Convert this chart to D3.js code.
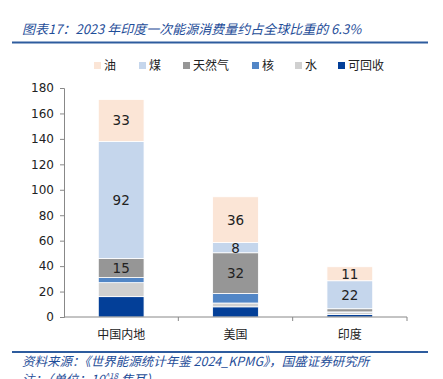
<!DOCTYPE html>
<html>
<head>
<meta charset="utf-8">
<script src="https://cdn.jsdelivr.net/npm/d3@7"></script>
<style>
  body { margin: 0; background: #fff; }
  svg { display: block; }
</style>
</head>
<body>
<div id="chart"></div>
<script>
var width = 443;
var height = 379;

var regions = ["中国内地", "美国", "印度"];
var seriesNames = ["可回收", "水", "核", "天然气", "煤", "油"];
var renewable = [16, 8, 2];
var hydro = [11, 3, 1.5];
var nuclear = [4, 7.5, 0.5];
var gas = [15, 32, 2.5];
var coal = [92, 8, 22];
var oil = [33, 36, 11];
var legendOrder = ["油", "煤", "天然气", "核", "水", "可回收"];
var yTicks = [0, 20, 40, 60, 80, 100, 120, 140, 160, 180];

var colors = {
  "油": "#fbe5d6",
  "煤": "#c5d6ec",
  "天然气": "#969696",
  "核": "#5286c6",
  "水": "#d0d0d0",
  "可回收": "#033f98"
};
var labelled = ["天然气", "煤", "油"];

var seriesValues = [renewable, hydro, nuclear, gas, coal, oil];
var rows = regions.map((r, i) => {
  var row = { region: r };
  seriesNames.forEach((s, j) => { row[s] = seriesValues[j][i]; });
  return row;
});

var margin = { left: 64, right: 36, top: 88, bottom: 62 };

var svg = d3.select("#chart").append("svg")
  .attr("width", width)
  .attr("height", height);

// title
svg.append("text")
  .attr("x", 22)
  .attr("y", 34)
  .attr("fill", "#1f4e99")
  .attr("font-family", "'Noto Sans CJK SC', sans-serif")
  .attr("font-style", "italic")
  .attr("font-size", "13px")
  .text("图表17：2023 年印度一次能源消费量约占全球比重的 6.3%");

svg.append("line")
  .attr("x1", 12).attr("x2", 428)
  .attr("y1", 42.5).attr("y2", 42.5)
  .attr("stroke", "#2e5c9e")
  .attr("stroke-width", 2);

var x = d3.scaleBand()
  .domain(regions)
  .range([margin.left, width - margin.right])
  .paddingInner(0.6)
  .paddingOuter(0.3);

var y = d3.scaleLinear()
  .domain([0, 180])
  .range([height - margin.bottom, margin.top]);

var stacked = d3.stack().keys(seriesNames)(rows);

var layers = svg.append("g")
  .selectAll("g")
  .data(stacked)
  .enter()
  .append("g")
  .attr("fill", d => colors[d.key]);

layers.selectAll("rect")
  .data(d => d)
  .enter()
  .append("rect")
  .attr("x", d => x(d.data.region))
  .attr("y", d => y(d[1]))
  .attr("width", x.bandwidth())
  .attr("height", d => y(d[0]) - y(d[1]))
  .attr("stroke", "#fff")
  .attr("stroke-width", 0.8);

// value labels (small India gas slice has none)
stacked.filter(s => labelled.includes(s.key)).forEach(s => {
  svg.append("g")
    .selectAll("text")
    .data(s.filter(d => d[1] - d[0] >= 5))
    .enter()
    .append("text")
    .attr("x", d => x(d.data.region) + x.bandwidth() / 2)
    .attr("y", d => y((d[0] + d[1]) / 2))
    .attr("dy", "0.36em")
    .attr("text-anchor", "middle")
    .attr("font-family", "'DejaVu Sans', Verdana, sans-serif")
    .attr("font-size", "13.5px")
    .attr("fill", "#222")
    .text(d => d[1] - d[0]);
});

// y axis
var yAxis = svg.append("g")
  .attr("transform", "translate(" + margin.left + ",0)")
  .call(d3.axisLeft(y).tickValues(yTicks).tickSize(4).tickPadding(6));
yAxis.selectAll("text")
  .attr("font-family", "'DejaVu Sans', Verdana, sans-serif")
  .attr("font-size", "12px")
  .attr("fill", "#222");
yAxis.selectAll("path, line").attr("stroke", "#888");

// x axis with ticks between categories
var xAxisG = svg.append("g")
  .attr("transform", "translate(0," + y(0) + ")");
xAxisG.append("line")
  .attr("x1", margin.left).attr("x2", width - margin.right)
  .attr("stroke", "#888");
var bounds = regions.map((r, i) => margin.left + (i + 1) * (width - margin.left - margin.right) / regions.length);
xAxisG.selectAll(".tk")
  .data(bounds)
  .enter()
  .append("line")
  .attr("x1", d => d).attr("x2", d => d)
  .attr("y1", 0).attr("y2", 4)
  .attr("stroke", "#888");
xAxisG.selectAll(".lbl")
  .data(regions)
  .enter()
  .append("text")
  .attr("x", d => x(d) + x.bandwidth() / 2)
  .attr("y", 22)
  .attr("text-anchor", "middle")
  .attr("font-family", "'Noto Sans CJK SC', sans-serif")
  .attr("font-size", "12px")
  .attr("fill", "#222")
  .text(d => d);

// legend
var legendX = [94, 139, 183, 252, 295, 338];
var legend = svg.append("g")
  .selectAll("g")
  .data(legendOrder)
  .enter()
  .append("g")
  .attr("transform", (d, i) => "translate(" + legendX[i] + ",62)");
legend.append("rect")
  .attr("width", 7).attr("height", 7)
  .attr("fill", d => colors[d]);
legend.append("text")
  .attr("x", 10)
  .attr("y", 7.5)
  .attr("font-family", "'Noto Sans CJK SC', sans-serif")
  .attr("font-size", "12px")
  .attr("fill", "#222")
  .text(d => d);

// footer
svg.append("line")
  .attr("x1", 12).attr("x2", 428)
  .attr("y1", 352).attr("y2", 352)
  .attr("stroke", "#2e5c9e")
  .attr("stroke-width", 2);
svg.append("text")
  .attr("x", 22)
  .attr("y", 366)
  .attr("fill", "#1f4e99")
  .attr("font-family", "'Noto Sans CJK SC', sans-serif")
  .attr("font-style", "italic")
  .attr("font-size", "12.5px")
  .text("资料来源：《世界能源统计年鉴 2024_KPMG》，国盛证券研究所");
var note = svg.append("text")
  .attr("x", 22)
  .attr("y", 384)
  .attr("fill", "#1f4e99")
  .attr("font-family", "'Noto Sans CJK SC', sans-serif")
  .attr("font-style", "italic")
  .attr("font-size", "12.5px")
  .text("注：（单位：10");
note.append("tspan").attr("dy", -5).attr("font-size", "8px").text("^18");
note.append("tspan").attr("dy", 5).text(" 焦耳）");
</script>
</body>
</html>
